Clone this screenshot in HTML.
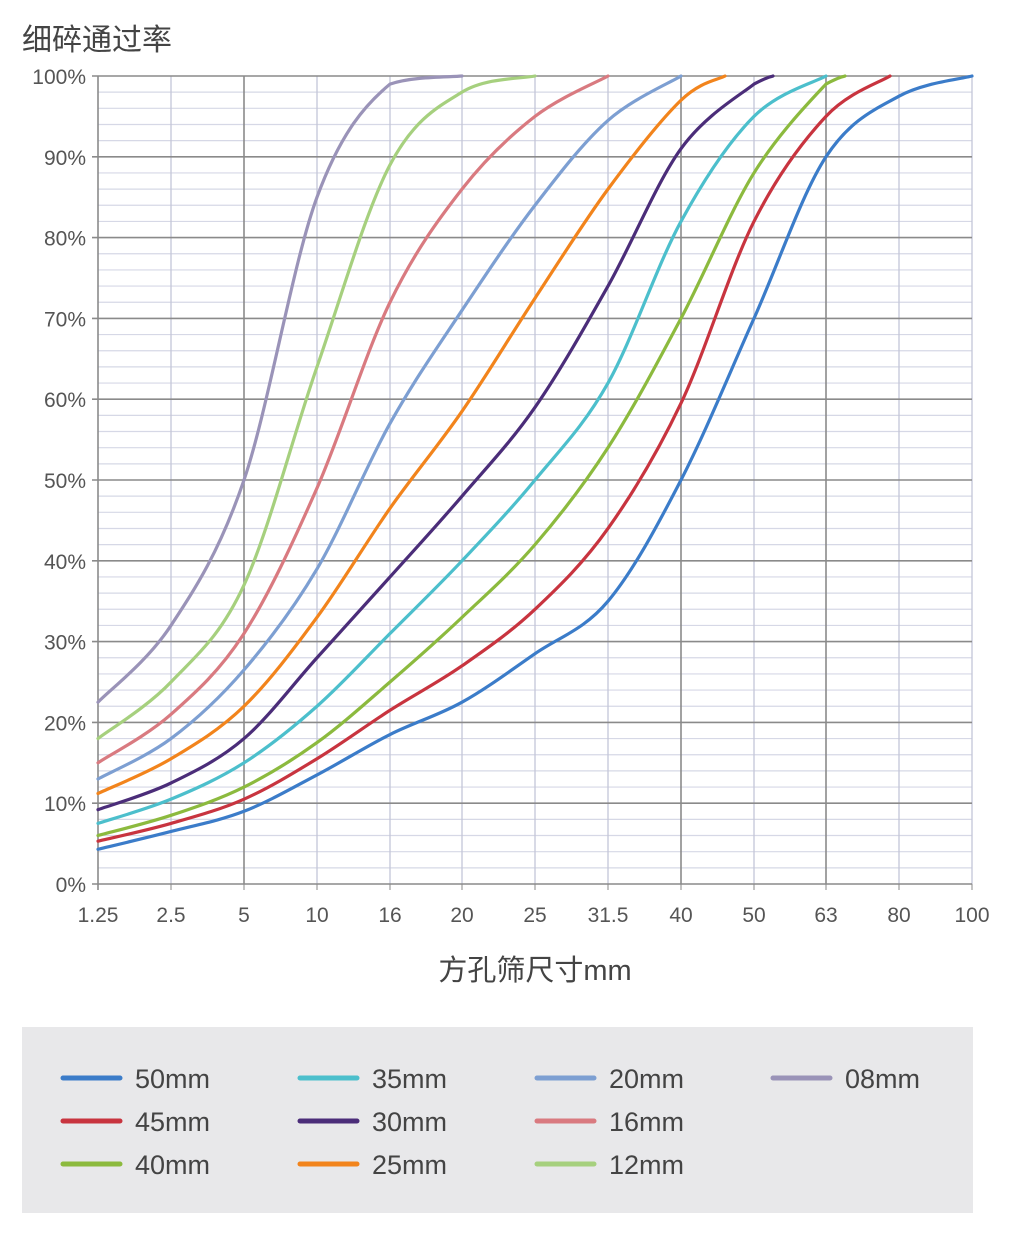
<!DOCTYPE html>
<html><head><meta charset="utf-8"><style>
body{margin:0;background:#fff;width:1009px;height:1249px;overflow:hidden;font-family:"Liberation Sans","Noto Sans CJK SC",sans-serif}
</style></head><body>
<svg id="s" width="1009" height="1249" xmlns="http://www.w3.org/2000/svg" style="position:absolute;left:0;top:0">
<text x="22" y="50" font-size="30" fill="#444" font-family="Liberation Sans,Noto Sans CJK SC,sans-serif">细碎通过率</text>
<g id="grid"></g>
<g id="curves" fill="none" stroke-width="3.2" stroke-linecap="round"></g>
<text x="535" y="980" font-size="29" fill="#444" text-anchor="middle" font-family="Liberation Sans,Noto Sans CJK SC,sans-serif">方孔筛尺寸mm</text>
<rect x="22" y="1027" width="951" height="186" fill="#e8e8ea"/>
<g id="leg" font-size="27" fill="#444" font-family="Liberation Sans,sans-serif"></g>
</svg>
<script>
var NS="http://www.w3.org/2000/svg";
function el(p,t,a,txt){var e=document.createElementNS(NS,t);for(var k in a)e.setAttribute(k,a[k]);if(txt)e.textContent=txt;p.appendChild(e);return e;}
var X=[98,171,244,317,390,462,535,608,681,754,826,899,972];
var XL=["1.25","2.5","5","10","16","20","25","31.5","40","50","63","80","100"];
function Y(p){return 884-8.08*p;}
var g=document.getElementById('grid');
for(var p=0;p<100;p+=2){if(p%10)el(g,'line',{x1:98,x2:972,y1:Y(p),y2:Y(p),stroke:'#d6d8e6','stroke-width':1.2});}
for(var i=1;i<13;i++){var dark=(i==2||i==8||i==10);el(g,'line',{x1:X[i],x2:X[i],y1:76,y2:884,stroke:dark?'#8a8a8a':'#c4c6d8','stroke-width':dark?1.6:1.3});}
for(var p=0;p<=100;p+=10){el(g,'line',{x1:92,x2:972,y1:Y(p),y2:Y(p),stroke:'#8a8a8a','stroke-width':1.6});
el(g,'text',{x:86,y:Y(p)+8,'font-size':21,fill:'#555','text-anchor':'end'},p+'%');}
el(g,'line',{x1:98,x2:98,y1:76,y2:890,stroke:'#8a8a8a','stroke-width':1.6});
for(var i=0;i<13;i++){el(g,'line',{x1:X[i],x2:X[i],y1:884,y2:890,stroke:'#8a8a8a'});el(g,'text',{x:X[i],y:922,'font-size':21,fill:'#555','text-anchor':'middle'},XL[i]);}
var S=[
["50mm","#3b7cc9",[4.3,6.5,9,13.5,18.5,22.5,28.5,35,50,70,90,97.5,100]],
["45mm","#c8343f",[5.3,7.5,10.5,15.5,21.5,27,34,44,59.5,82,95,100],890],
["40mm","#8cba3e",[6,8.5,12,17.5,25,33,42,54,70,88,99,100],845],
["35mm","#4cbfcc",[7.5,10.5,15,22,31,40,50,62,82,95,100],826],
["30mm","#4b2d79",[9.2,12.5,18,28,38,48,59,74,91,99,100],773],
["25mm","#f2841c",[11.2,15.5,22,33,46.5,58.5,72.5,86,97,100],725],
["20mm","#7d9fd2",[13,18,26.5,39,57,71,84,94.5,100]],
["16mm","#d97a80",[15,21,31,49,72,86,95,100]],
["12mm","#a6d07e",[18,25,37,64,89,98,100]],
["08mm","#9a93b8",[22.5,32,50,85,99,100]]];
var c=document.getElementById('curves');
S.forEach(function(s){var v=s[2],pts=[];for(var i=0;i<v.length;i++){pts.push([X[i],Y(v[i])]);}
if(s[3])pts[pts.length-1][0]=s[3];
var d='M'+pts[0][0]+' '+pts[0][1];
for(var i=0;i<pts.length-1;i++){var p0=pts[Math.max(0,i-1)],p1=pts[i],p2=pts[i+1],p3=pts[Math.min(pts.length-1,i+2)];
var c1=[p1[0]+(p2[0]-p0[0])/6,p1[1]+(p2[1]-p0[1])/6],c2=[p2[0]-(p3[0]-p1[0])/6,p2[1]-(p3[1]-p1[1])/6];
if(c1[1]<Y(100))c1[1]=Y(100);if(c2[1]<Y(100))c2[1]=Y(100);
d+=' C'+c1[0]+' '+c1[1]+' '+c2[0]+' '+c2[1]+' '+p2[0]+' '+p2[1];}
el(c,'path',{d:d,stroke:s[1]});});
var L=document.getElementById('leg');
var pos=[[0,0],[0,1],[0,2],[1,0],[1,1],[1,2],[2,0],[2,1],[2,2],[3,0]];
var cols=[63,300,537,773],rows=[1078,1121,1164];
S.forEach(function(s,i){var x=cols[pos[i][0]],y=rows[pos[i][1]];
el(L,'line',{x1:x,x2:x+57,y1:y,y2:y,stroke:s[1],'stroke-width':5,'stroke-linecap':'round'});
el(L,'text',{x:x+72,y:y+10},s[0]);});
</script>
</body></html>
